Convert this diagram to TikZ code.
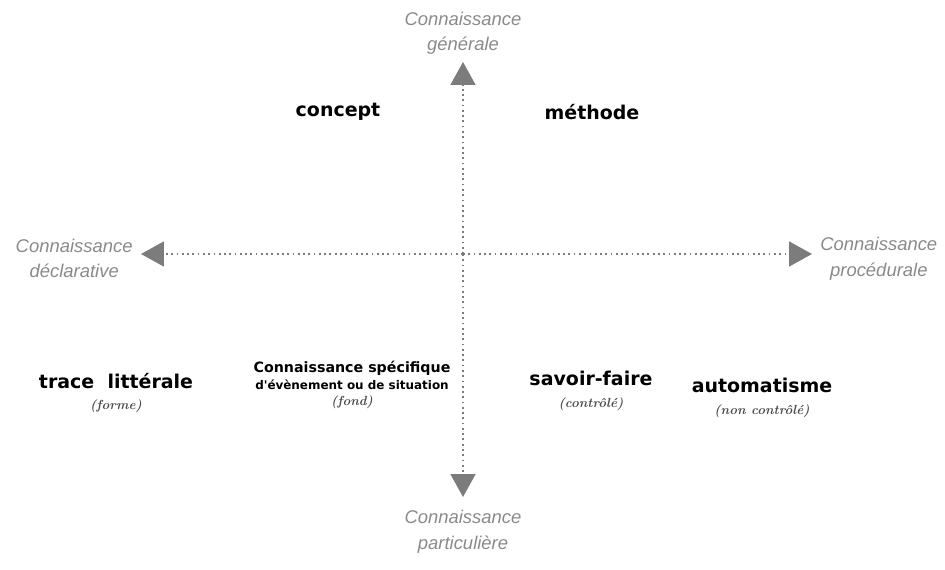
\documentclass[tikz,border=0pt]{standalone}
\usepackage{fontspec}
\usepackage{xcolor}
\usepackage{tikz}
\usetikzlibrary{arrows.meta, positioning}
\newfontfamily\polefont{Liberation Sans}
\newfontfamily\kindfont{DejaVu Sans}
\definecolor{axisgray}{HTML}{7C7C7C}
\definecolor{polegray}{HTML}{8A8A8A}
\newcommand{\remark}[1]{{\rmfamily\fontsize{7.5}{9}\selectfont\itshape\color{black!70} #1}}

\begin{document}
\begin{tikzpicture}[
    x = 0.02cm, y = -0.02cm,
    axis/.style  = {axisgray, line width=1pt, dash pattern=on 1pt off 2pt,
                    -{Triangle[length=0.46cm, width=0.5cm]}},
    pole/.style  = {align=center, text=polegray, inner sep=0pt,
                    font=\polefont\itshape\fontsize{10.5}{14.5}\selectfont},
    kind/.style  = {align=center, inner sep=0pt,
                    font=\kindfont\bfseries\fontsize{10.8}{12.2}\selectfont},
    event/.style = {align=center, inner sep=0pt,
                    font=\kindfont\bfseries\fontsize{8.1}{9.5}\selectfont}
  ]
  \useasboundingbox (0,0) rectangle (945,570);

  % axes
  \coordinate (o)    at (463,254);
  \coordinate (tipN) at (463,62);
  \coordinate (tipS) at (463,497);
  \coordinate (tipW) at (141,254);
  \coordinate (tipE) at (812,254);

  \draw[axis] (o) -- (tipN);
  \draw[axis] (o) -- (tipS);
  \draw[axis] (o) -- (tipW);
  \draw[axis] (o) -- (tipE);

  \node[pole, above=0.14cm of tipN]  (general)     {Connaissance\\générale};
  \node[pole, below=0.26cm of tipS]  (particular)  {Connaissance\\particulière};
  \node[pole, left=0.16cm of tipW, yshift=-0.09cm]  (declarative) {Connaissance\\déclarative};
  \node[pole, right=0.16cm of tipE, yshift=-0.09cm] (procedural)  {Connaissance\\procédurale};

  % kinds of knowledge
  \node[kind] (concept) at (338,112) {concept};
  \node[kind] (method)  at (592,112) {méthode};
  \node[kind] (trace)   at (116,393) {trace\ \ littérale\\\remark{(forme)}};
  \node[event] (specific) at (352,385)
    {Connaissance spécifique\\{\fontsize{6.8}{8}\selectfont d'évènement ou de situation}\\\remark{(fond)}};
  \node[kind] (knowhow) at (591,391) {savoir-faire\\\remark{(contrôlé)}};
  \node[kind] (routine) at (762,398) {automatisme\\\remark{(non contrôlé)}};
\end{tikzpicture}
\end{document}
